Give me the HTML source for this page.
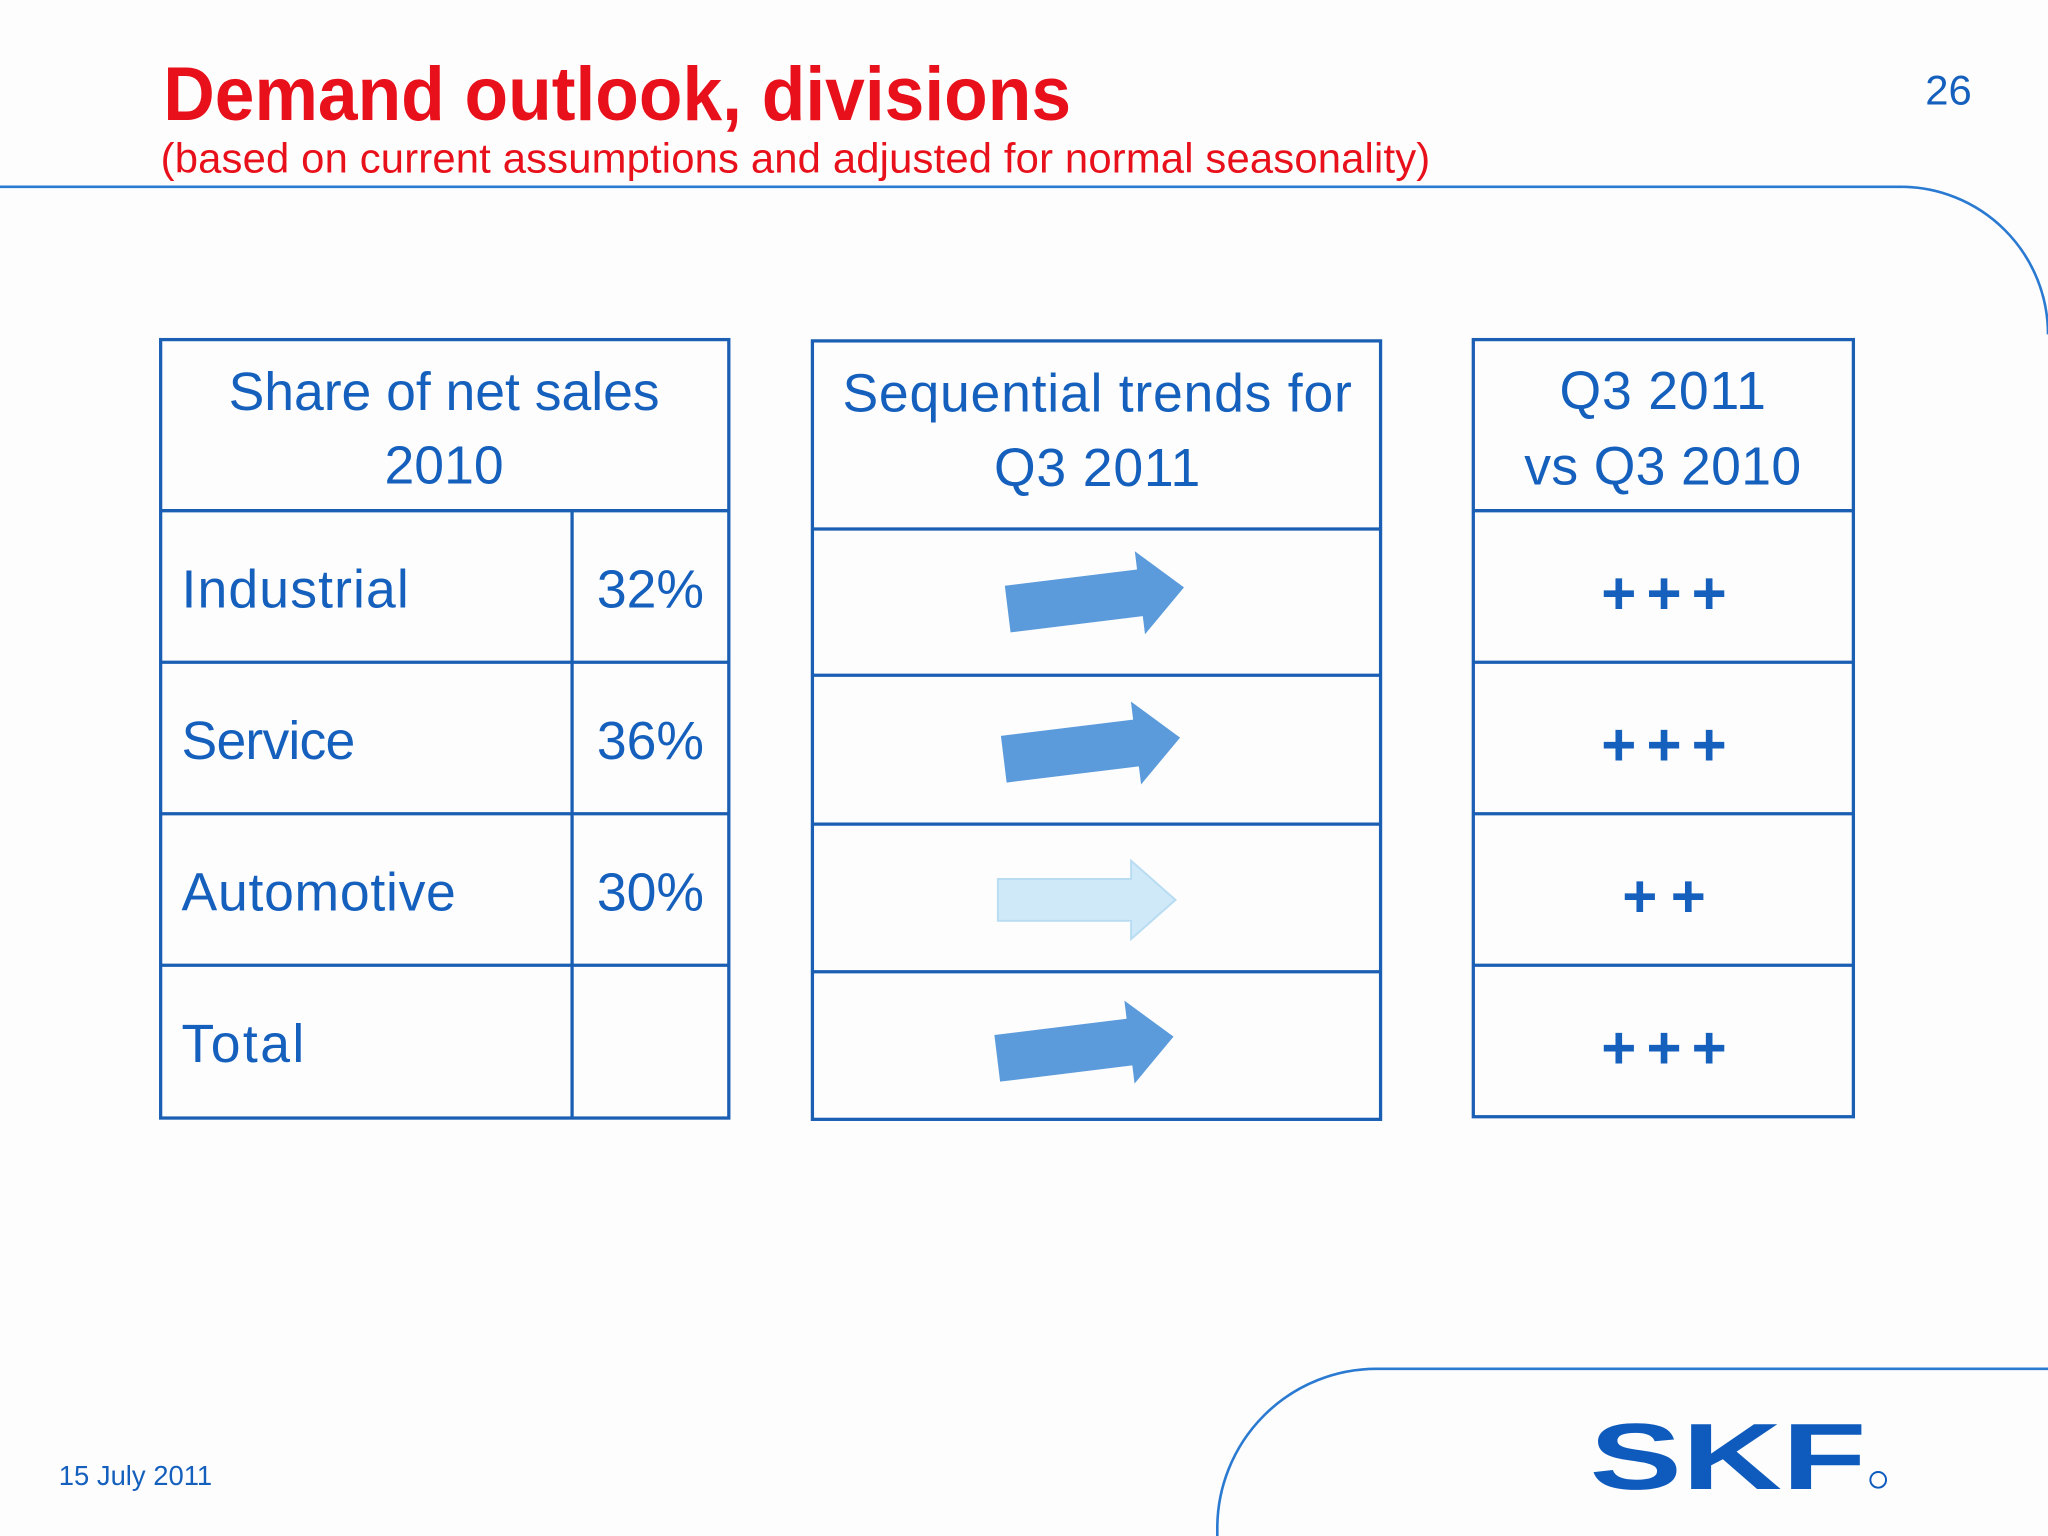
<!DOCTYPE html>
<html><head><meta charset="utf-8"><style>
html,body{margin:0;padding:0;background:#fdfdfd;}
svg{display:block;}
text{font-family:"Liberation Sans",sans-serif;}
</style></head><body>
<svg width="2048" height="1536" viewBox="0 0 1568 1176">
<rect width="1568" height="1176" fill="#fdfdfd"/>
<text x="125" y="92" font-size="58" font-weight="bold" fill="#e8101a" textLength="695" lengthAdjust="spacingAndGlyphs">Demand outlook, divisions</text>
<text x="123" y="132" font-size="32" fill="#e8101a" textLength="972">(based on current assumptions and adjusted for normal seasonality)</text>
<text x="1474" y="80" font-size="32" fill="#1560bd">26</text>
<path d="M0 143 H1455 A113 113 0 0 1 1568 256" fill="none" stroke="#2a7ad2" stroke-width="2"/>
<path d="M932 1176 V1170 A122 122 0 0 1 1054 1048 H1568" fill="none" stroke="#2a7ad2" stroke-width="2"/>

<g stroke="#1a5fb4" stroke-width="2.5" fill="none">
<rect x="123" y="260" width="435" height="596"/>
<path d="M123 391H558M123 507H558M123 623H558M123 739H558M438 391V856"/>
</g>
<g font-size="41" fill="#1560bd">
<text x="340" y="314" text-anchor="middle" textLength="330">Share of net sales</text>
<text x="340" y="370" text-anchor="middle">2010</text>
<text x="139" y="465" textLength="174">Industrial</text>
<text x="139" y="581" textLength="133">Service</text>
<text x="139" y="697" textLength="210">Automotive</text>
<text x="139" y="813" textLength="94">Total</text>
<text x="498" y="465" text-anchor="middle">32%</text>
<text x="498" y="581" text-anchor="middle">36%</text>
<text x="498" y="697" text-anchor="middle">30%</text>
</g>

<g stroke="#1a5fb4" stroke-width="2.5" fill="none">
<rect x="622" y="261" width="435" height="596"/>
<path d="M622 405H1057M622 517H1057M622 631H1057M622 744H1057"/>
</g>
<g font-size="41" fill="#1560bd">
<text x="840" y="315" text-anchor="middle" textLength="390">Sequential trends for</text>
<text x="840" y="372" text-anchor="middle" textLength="158">Q3 2011</text>
</g>
<g fill="#5b9bdc">
<path transform="translate(839,458) rotate(-7)" d="M-68 -18 H34 V-32 L68 0 L34 32 V18 H-68 Z"/>
<path transform="translate(836,573) rotate(-7)" d="M-68 -18 H34 V-32 L68 0 L34 32 V18 H-68 Z"/>
<path transform="translate(831,802) rotate(-7)" d="M-68 -18 H34 V-32 L68 0 L34 32 V18 H-68 Z"/>
</g>
<path transform="translate(832,689)" d="M-68 -16 H34 V-30 L68 0 L34 30 V16 H-68 Z" fill="#cfe9f9" stroke="#b8dcf2" stroke-width="1.5"/>

<g stroke="#1a5fb4" stroke-width="2.5" fill="none">
<rect x="1128" y="260" width="291" height="595"/>
<path d="M1128 391H1419M1128 507H1419M1128 623H1419M1128 739H1419"/>
</g>
<g font-size="41" fill="#1560bd">
<text x="1273" y="313" text-anchor="middle" textLength="158">Q3 2011</text>
<text x="1273" y="371" text-anchor="middle" textLength="212">vs Q3 2010</text>
</g>
<g font-size="46" font-weight="bold" fill="#1560bd">
<text x="1226" y="470" textLength="96" lengthAdjust="spacing">+++</text>
<text x="1226" y="586" textLength="96" lengthAdjust="spacing">+++</text>
<text x="1242" y="702" textLength="64" lengthAdjust="spacing">++</text>
<text x="1226" y="818" textLength="96" lengthAdjust="spacing">+++</text>
</g>

<text x="45" y="1137" font-size="21" fill="#1560bd">15 July 2011</text>
<text x="1217" y="1140" font-size="72" font-weight="900" fill="#0f5bbd" textLength="212" lengthAdjust="spacingAndGlyphs">SKF</text>
<circle cx="1438" cy="1133" r="6" fill="none" stroke="#0f5bbd" stroke-width="1.5"/>
</svg>
</body></html>
